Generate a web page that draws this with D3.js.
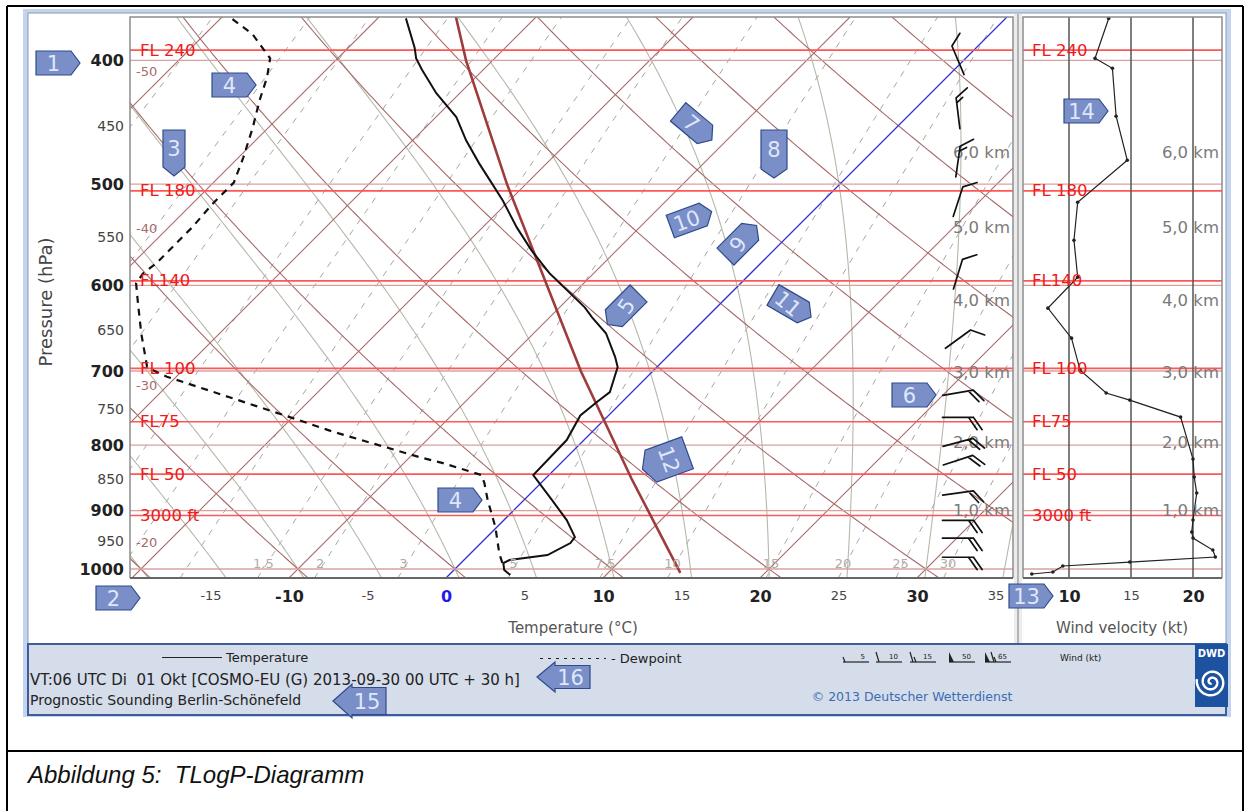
<!DOCTYPE html>
<html>
<head>
<meta charset="utf-8">
<script src="https://cdn.jsdelivr.net/npm/d3@7"></script>
<style>
  body { margin: 0; background: #fff; }
  svg { display: block; }
</style>
</head>
<body>
<svg id="chart" width="1244" height="811"></svg>
<script>
// ---------- sounding data ----------
const pressureTicks = [400, 450, 500, 550, 600, 650, 700, 750, 800, 850, 900, 950, 1000];
const majorPressure = [400, 500, 600, 700, 800, 900, 1000];
const tempTicks = [-15, -10, -5, 0, 5, 10, 15, 20, 25, 30, 35];
const majorTemp = [-10, 0, 10, 20, 30];
const windTicks = [10, 15, 20];

// flight levels (hPa, ICAO standard atmosphere)
const flLabels = ["FL 240", "FL 180", "FL140", "FL 100", "FL75", "FL 50", "3000 ft"];
const flPressure = [392.7, 506.0, 595.2, 696.8, 767.0, 843.0, 908.1];

// height marks of the standard atmosphere
const heightLabels = ["6,0 km", "5,0 km", "4,0 km", "3,0 km", "2,0 km", "1,0 km"];
const heightPressure = [472, 540, 616, 701, 795, 899];

// temperature profile (hPa, °C)
const tempP = [370.9, 390.8, 398.6, 406.9, 424.4, 443.1, 462.0, 481.6, 496.8, 515.2, 540.7, 563.5, 587.2, 605.4, 624.2, 635.5, 654.0, 682.6, 695.1, 727.2, 740.6, 758.3, 792.7, 844.3, 883.4, 915.6, 944.0, 954.3, 975.1, 983.9, 989.3, 1001.8, 1010.9];
const tempT = [-38.2, -35.8, -35.0, -33.9, -31.5, -28.7, -26.6, -24.3, -22.5, -20.4, -17.8, -15.4, -12.8, -10.6, -8.4, -7.3, -5.4, -3.3, -2.5, -1.4, -1.6, -1.8, -1.1, -1.0, 1.8, 4.0, 5.6, 5.7, 5.0, 2.9, 2.7, 3.2, 3.9];

// dewpoint profile (hPa, °C)
const dewP = [371.4, 381.4, 398.6, 412.3, 429.9, 451.5, 476.4, 498.6, 503.1, 517.9, 540.7, 560.4, 576.8, 587.2, 597.9, 619.9, 654.0, 694.6, 698.4, 707.2, 760.6, 781.0, 817.4, 826.4, 844.3, 856.6, 883.4, 927.2, 971.6, 992.8];
const dewT = [-49.2, -47.0, -44.3, -43.3, -42.3, -41.0, -39.7, -38.7, -38.7, -38.7, -38.5, -38.5, -38.5, -38.7, -38.5, -37.1, -35.0, -32.5, -32.0, -30.6, -20.2, -16.5, -9.4, -7.5, -4.3, -3.6, -2.3, -0.1, 1.8, 2.8];

// ICAO standard atmosphere
const isaP = [1007, 850, 700, 500, 400, 370];
const isaT = [14.6, 5.5, -4.6, -21.2, -31.7, -35.1];

// wind speed profile (hPa, kt)
const windP = [371, 398.6, 405.8, 442.4, 478.9, 516.5, 553.1, 591.2, 625.1, 659.8, 698.9, 728.4, 737.7, 760.6, 820.4, 847.4, 872.1, 915.6, 935.6, 945.7, 966.4, 978.6, 987.5, 994.6, 1005.4, 1009];
const windKt = [13.2, 12.1, 13.5, 13.8, 14.7, 10.7, 10.4, 10.7, 8.3, 10.2, 10.9, 13.0, 14.9, 19.0, 20.0, 20.1, 20.3, 20.0, 19.9, 20.0, 21.6, 21.8, 14.9, 9.5, 8.7, 7.0];

// wind barbs (hPa, direction °, speed kt)
const barbP = [400, 440, 480, 516, 588, 661, 728, 761, 796, 822, 872, 916, 946, 979];
const barbDir = [337, 353, 8, 18, 17, 54, 80, 90, 75, 72, 82, 90, 90, 90];
const barbKt = [10, 15, 15, 10, 10, 10, 20, 20, 20, 20, 20, 20, 20, 20];

// thermodynamic grid
const isotherms = [-60, -50, -40, -30, -20, -10, 0, 10, 20, 30];
const isothermLabels = [-50, -40, -30, -20];
const dryAdiabats = [-20, -10, 0, 10, 20, 30, 40, 50, 60, 70, 80];
const moistAdiabats = [-20, -15, -10, -5, 0, 5, 10, 15, 20, 25, 30, 35];
const mixingRatios = [0.1, 0.2, 0.3, 0.5, 0.7, 1, 1.5, 2, 3, 5, 7.5, 10, 15, 20, 25, 30, 40];
const mixingLabels = [1.5, 2, 3, 5, 7.5, 10, 15, 20, 25, 30];

// numbered annotation markers
const markers = [
  {n: "1", x: 58, y: 63, a: 0, ta: 0},
  {n: "2", x: 118, y: 598, a: 0, ta: 0},
  {n: "3", x: 174, y: 153, a: 90, ta: 0, len: 46, h: 22},
  {n: "4", x: 234, y: 85, a: 0, ta: 0},
  {n: "4", x: 460, y: 500, a: 0, ta: 0},
  {n: "5", x: 623, y: 309, a: 135, ta: -55},
  {n: "6", x: 914, y: 395, a: 0, ta: 0},
  {n: "7", x: 695, y: 126, a: 40, ta: 40},
  {n: "8", x: 774, y: 154, a: 90, ta: 0, len: 48, h: 26},
  {n: "9", x: 741, y: 241, a: -45, ta: -55},
  {n: "10", x: 691, y: 219, a: -20, ta: -20},
  {n: "11", x: 792, y: 306, a: 30, ta: 40},
  {n: "12", x: 665, y: 461, a: 160, ta: 70, len: 48, h: 34},
  {n: "13", x: 1031, y: 596, a: 0, ta: 0},
  {n: "14", x: 1086, y: 111, a: 0, ta: 0}
];

// ---------- layout ----------
const plot = {left: 130, right: 1013, top: 17, bottom: 578};
const wind = {left: 1023, right: 1222};
const pTop = 370, pBottom = 1016.3;
const barbColumnX = 958;

const svg = d3.select("#chart");
const FONT = "DejaVu Sans, Verdana, sans-serif";

// scales
const yP = d3.scaleLog().domain([pBottom, pTop]).range([plot.bottom, plot.top]);
const xT = d3.scaleLinear().domain([0, 35]).range([446, 446 + 35 * 15.7]);
const skewX = (T, p) => xT(T) + (plot.bottom - yP(p));
const xW = d3.scaleLinear().domain([10, 20]).range([1069, 1193]);

// ---------- frames ----------
svg.append("rect").attr("width", 1244).attr("height", 811).attr("fill", "#fff");
// document table borders
svg.append("path").attr("d", "M7,6H1243M7,751H1243M7,6V811M1243,6V811")
  .attr("stroke", "#000").attr("stroke-width", 2).attr("fill", "none");

// screenshot panel
svg.append("rect").attr("x", 23).attr("y", 9).attr("width", 1208).attr("height", 708).attr("fill", "#c4d4ec");
svg.append("rect").attr("x", 28).attr("y", 13).attr("width", 1198).attr("height", 631).attr("fill", "#fff")
  .attr("stroke", "#8a9ab8").attr("stroke-width", 1);
svg.append("rect").attr("x", 28).attr("y", 644).attr("width", 1198).attr("height", 71).attr("fill", "#d5dcea")
  .attr("stroke", "#3d5c9c").attr("stroke-width", 2);

// separator between diagram and wind panel
svg.append("rect").attr("x", 1014).attr("y", 14).attr("width", 8).attr("height", 629).attr("fill", "#ececec");
svg.append("line").attr("x1", 1018).attr("x2", 1018).attr("y1", 14).attr("y2", 643).attr("stroke", "#b4b4b4").attr("stroke-width", 2);

const defs = svg.append("defs");
defs.append("clipPath").attr("id", "clipMain").append("rect")
  .attr("x", plot.left).attr("y", plot.top).attr("width", plot.right - plot.left).attr("height", plot.bottom - plot.top);
defs.append("clipPath").attr("id", "clipWind").append("rect")
  .attr("x", wind.left).attr("y", plot.top).attr("width", wind.right - wind.left).attr("height", plot.bottom - plot.top);

const gMain = svg.append("g").attr("clip-path", "url(#clipMain)");
const gWind = svg.append("g").attr("clip-path", "url(#clipWind)");

// ---------- thermodynamic helpers ----------
const pSteps = d3.range(pBottom, pTop - 0.01, -4).concat([pTop]);
function satVap(Tc) { return 6.112 * Math.exp(17.67 * Tc / (Tc + 243.5)); }
function moistLapse(Tk, p) {
  const Rd = 287.04, Cp = 1005.7, L = 2.501e6, eps = 0.622;
  const es = satVap(Tk - 273.15), rs = eps * es / (p - es);
  return (Rd * Tk + L * rs) / (p * (Cp + L * L * rs * eps / (Rd * Tk * Tk)));
}
function moistCurve(T0) {
  const down = [];
  let T = T0 + 273.15, p = 1000;
  while (p < pBottom) { const dp = Math.min(2, pBottom - p); T += moistLapse(T, p) * dp; p += dp; down.push({p, T: T - 273.15}); }
  const pts = down.reverse();
  pts.push({p: 1000, T: T0});
  T = T0 + 273.15; p = 1000;
  while (p > pTop) {
    const dp = -Math.min(4, p - pTop);
    const k1 = moistLapse(T, p);
    const k2 = moistLapse(T + k1 * dp / 2, p + dp / 2);
    T += k2 * dp; p += dp;
    pts.push({p, T: T - 273.15});
  }
  return pts;
}
function mixDew(w, p) {
  const e = w * p / (622 + w), g = Math.log(e / 6.112);
  return 243.5 * g / (17.67 - g);
}

const skewLine = d3.line().x(d => skewX(d.T, d.p)).y(d => yP(d.p));

// mixing ratio lines (dashed)
gMain.selectAll(".mix").data(mixingRatios).join("path")
  .attr("d", w => skewLine(pSteps.map(p => ({p, T: mixDew(w, p)}))))
  .attr("fill", "none").attr("stroke", "#a3a3a3").attr("stroke-width", 1).attr("stroke-dasharray", "6,7");

// saturated adiabats
gMain.selectAll(".moist").data(moistAdiabats).join("path")
  .attr("d", T0 => skewLine(moistCurve(T0)))
  .attr("fill", "none").attr("stroke", "#b3baa9").attr("stroke-width", 1.1);

// dry adiabats
gMain.selectAll(".dry").data(dryAdiabats).join("path")
  .attr("d", th => skewLine(pSteps.map(p => ({p, T: (th + 273.15) * Math.pow(p / 1000, 0.2857) - 273.15}))))
  .attr("fill", "none").attr("stroke", "#a86a6a").attr("stroke-width", 1.1);

// isotherms
gMain.selectAll(".iso").data(isotherms.filter(t => t !== 0)).join("line")
  .attr("x1", t => skewX(t, pBottom)).attr("y1", yP(pBottom))
  .attr("x2", t => skewX(t, pTop)).attr("y2", yP(pTop))
  .attr("stroke", "#a86a6a").attr("stroke-width", 1.1);
gMain.append("line")
  .attr("x1", skewX(0, pBottom)).attr("y1", yP(pBottom))
  .attr("x2", skewX(0, pTop)).attr("y2", yP(pTop))
  .attr("stroke", "#3434c8").attr("stroke-width", 1.3);

// isobars and flight levels in both panels
[[gMain, plot.left, plot.right], [gWind, wind.left, wind.right]].forEach(([g, x0, x1]) => {
  g.selectAll(".isobar").data(majorPressure).join("line")
    .attr("x1", x0).attr("x2", x1).attr("y1", p => yP(p)).attr("y2", p => yP(p))
    .attr("stroke", "#d9a0a0").attr("stroke-width", 1.3);
  g.selectAll(".fl").data(flPressure).join("line")
    .attr("x1", x0).attr("x2", x1).attr("y1", p => yP(p)).attr("y2", p => yP(p))
    .attr("stroke", "#ff5656").attr("stroke-width", 1.7);
});

// standard atmosphere
gMain.append("path").datum(isaP.map((p, i) => ({p, T: isaT[i]})))
  .attr("d", skewLine).attr("fill", "none").attr("stroke", "#9e3c3c").attr("stroke-width", 2.6);

// dewpoint and temperature
gMain.append("path").datum(dewP.map((p, i) => ({p, T: dewT[i]})))
  .attr("d", skewLine).attr("fill", "none").attr("stroke", "#111").attr("stroke-width", 2.2)
  .attr("stroke-dasharray", "7,6");
gMain.append("path").datum(tempP.map((p, i) => ({p, T: tempT[i]})))
  .attr("d", skewLine).attr("fill", "none").attr("stroke", "#111").attr("stroke-width", 2);

// ---------- labels inside diagram ----------
// isotherm labels on left edge
svg.selectAll(".isoLab").data(isothermLabels).join("text")
  .attr("x", plot.left + 6)
  .attr("y", t => plot.bottom - (plot.left - xT(t)) - 33)
  .attr("font-family", FONT).attr("font-size", 13).attr("fill", "#a46c6c")
  .text(t => t);

// mixing ratio labels at 1000 hPa
svg.selectAll(".mixLab").data(mixingLabels).join("text")
  .attr("x", w => skewX(mixDew(w, 1000), 1000)).attr("y", yP(1000) - 1)
  .attr("text-anchor", "middle").attr("font-family", FONT).attr("font-size", 13).attr("fill", "#b3aca4")
  .text(w => w);

// flight level labels
[plot.left + 10, wind.left + 9].forEach(x0 => {
  svg.selectAll(null).data(flLabels).join("text")
    .attr("x", x0).attr("y", (d, i) => yP(flPressure[i]) + 5.5)
    .attr("font-family", FONT).attr("font-size", 16.5).attr("fill", "#ec1c1c")
    .text(d => d);
});

// height labels
[plot.right - 3, wind.right - 3].forEach(x0 => {
  svg.selectAll(null).data(heightLabels).join("text")
    .attr("x", x0).attr("y", (d, i) => yP(heightPressure[i]) + 6)
    .attr("text-anchor", "end").attr("font-family", FONT).attr("font-size", 16.5).attr("fill", "#7a7a7a")
    .text(d => d);
});

// wind barbs
const gBarb = svg.append("g").attr("stroke", "#111").attr("stroke-width", 1.7).attr("fill", "none")
  .attr("stroke-linecap", "round");
barbP.forEach((p, i) => {
  const a = barbDir[i] * Math.PI / 180;
  const ux = Math.sin(a), uy = -Math.cos(a);
  const vx = -uy, vy = ux;
  const cx = barbColumnX, cy = yP(p), half = 15.5;
  const bx = cx - ux * half, by = cy - uy * half, tx = cx + ux * half, ty = cy + uy * half;
  let d = `M${bx},${by}L${tx},${ty}`;
  let spd = barbKt[i], k = 0;
  const ang = 35 * Math.PI / 180, ca = Math.cos(ang), sa = Math.sin(ang);
  while (spd >= 10) {
    const sx = tx - ux * 5 * k, sy = ty - uy * 5 * k, L = 15;
    d += `M${sx},${sy}l${(vx * ca + ux * sa) * L},${(vy * ca + uy * sa) * L}`;
    spd -= 10; k++;
  }
  if (spd >= 5) {
    const sx = tx - ux * 5 * (k === 0 ? 1 : k), sy = ty - uy * 5 * (k === 0 ? 1 : k), L = 8;
    d += `M${sx},${sy}l${(vx * ca + ux * sa) * L},${(vy * ca + uy * sa) * L}`;
  }
  gBarb.append("path").attr("d", d);
});

// ---------- wind panel ----------
gWind.selectAll(".wgrid").data(windTicks).join("line")
  .attr("x1", d => xW(d)).attr("x2", d => xW(d)).attr("y1", plot.top).attr("y2", plot.bottom)
  .attr("stroke", "#555").attr("stroke-width", 1.5);
const windData = windP.map((p, i) => ({p, v: windKt[i]}));
gWind.append("path").datum(windData)
  .attr("d", d3.line().x(d => xW(d.v)).y(d => yP(d.p)))
  .attr("fill", "none").attr("stroke", "#222").attr("stroke-width", 1.2);
gWind.selectAll(".wdot").data(windData).join("circle")
  .attr("cx", d => xW(d.v)).attr("cy", d => yP(d.p)).attr("r", 1.8).attr("fill", "#222");

// plot frames
svg.append("path")
  .attr("d", `M${plot.left},${plot.bottom}V${plot.top}H${plot.right}V${plot.bottom}`)
  .attr("fill", "none").attr("stroke", "#8c8c8c").attr("stroke-width", 1.5);
svg.append("path")
  .attr("d", `M${wind.left},${plot.bottom}V${plot.top}H${wind.right}V${plot.bottom}`)
  .attr("fill", "none").attr("stroke", "#8c8c8c").attr("stroke-width", 1.5);
svg.append("line").attr("x1", plot.left).attr("x2", plot.right).attr("y1", plot.bottom).attr("y2", plot.bottom)
  .attr("stroke", "#666").attr("stroke-width", 2.2);
svg.append("line").attr("x1", wind.left).attr("x2", wind.right).attr("y1", plot.bottom).attr("y2", plot.bottom)
  .attr("stroke", "#666").attr("stroke-width", 2.2);

// ---------- axes ----------
const yAxis = d3.axisLeft(yP).tickValues(pressureTicks).tickFormat(d => String(d)).tickSize(0).tickPadding(6);
const gy = svg.append("g").attr("transform", `translate(${plot.left},0)`).call(yAxis);
gy.select(".domain").remove();
gy.selectAll("text")
  .attr("font-family", FONT)
  .attr("font-size", d => majorPressure.includes(d) ? 16 : 14)
  .attr("font-weight", d => majorPressure.includes(d) ? "bold" : "normal")
  .attr("fill", d => majorPressure.includes(d) ? "#222" : "#444");

const xAxis = d3.axisBottom(xT).tickValues(tempTicks).tickFormat(d => String(d)).tickSize(0).tickPadding(13);
const gx = svg.append("g").attr("transform", `translate(0,${plot.bottom})`).call(xAxis);
gx.select(".domain").remove();
gx.selectAll("text")
  .attr("font-family", FONT)
  .attr("font-size", d => majorTemp.includes(d) ? 16 : 13)
  .attr("font-weight", d => majorTemp.includes(d) ? "bold" : "normal")
  .attr("fill", d => d === 0 ? "#1c1cf0" : (majorTemp.includes(d) ? "#222" : "#444"));

const wAxis = d3.axisBottom(xW).tickValues(windTicks).tickFormat(d => String(d)).tickSize(0).tickPadding(13);
const gw = svg.append("g").attr("transform", `translate(0,${plot.bottom})`).call(wAxis);
gw.select(".domain").remove();
gw.selectAll("text")
  .attr("font-family", FONT)
  .attr("font-size", d => d === 15 ? 13 : 16)
  .attr("font-weight", d => d === 15 ? "normal" : "bold")
  .attr("fill", d => d === 15 ? "#444" : "#222");

// axis titles
svg.append("text").attr("x", 573).attr("y", 633).attr("text-anchor", "middle")
  .attr("font-family", FONT).attr("font-size", 15).attr("fill", "#555").text("Temperature (°C)");
svg.append("text").attr("x", 1122).attr("y", 633).attr("text-anchor", "middle")
  .attr("font-family", FONT).attr("font-size", 15).attr("fill", "#555").text("Wind velocity (kt)");
svg.append("text").attr("transform", "translate(52,302) rotate(-90)").attr("text-anchor", "middle")
  .attr("font-family", FONT).attr("font-size", 18).attr("fill", "#444").text("Pressure (hPa)");

// ---------- footer ----------
const foot = svg.append("g").attr("font-family", FONT);
foot.append("line").attr("x1", 162).attr("x2", 222).attr("y1", 657.5).attr("y2", 657.5).attr("stroke", "#222").attr("stroke-width", 1.2);
foot.append("text").attr("x", 226).attr("y", 662).attr("font-size", 13).attr("fill", "#222").text("Temperature");
foot.append("line").attr("x1", 540).attr("x2", 606).attr("y1", 658.5).attr("y2", 658.5).attr("stroke", "#222")
  .attr("stroke-width", 1.2).attr("stroke-dasharray", "3,5");
foot.append("text").attr("x", 611).attr("y", 663).attr("font-size", 13).attr("fill", "#222").text("- Dewpoint");
foot.append("text").attr("x", 30).attr("y", 685).attr("font-size", 15).attr("fill", "#222")
  .style("white-space", "pre").text("VT:06 UTC Di  01 Okt [COSMO-EU (G) 2013-09-30 00 UTC + 30 h]");
foot.append("text").attr("x", 30).attr("y", 705).attr("font-size", 14).attr("fill", "#222")
  .text("Prognostic Sounding Berlin-Schönefeld");
foot.append("text").attr("x", 912).attr("y", 701).attr("text-anchor", "middle").attr("font-size", 12.5)
  .attr("fill", "#3b6db4").text("© 2013 Deutscher Wetterdienst");
foot.append("text").attr("x", 1060).attr("y", 661).attr("font-size", 9).attr("fill", "#222").text("Wind (kt)");

// wind legend glyphs
const legendKt = [5, 10, 15, 50, 65];
const legendX = [843, 876, 910, 949, 985];
const gl = foot.append("g").attr("stroke", "#222").attr("stroke-width", 1.2).attr("fill", "none");
legendKt.forEach((kt, i) => {
  const x0 = legendX[i], y0 = 662, w = 26;
  gl.append("line").attr("x1", x0).attr("x2", x0 + w).attr("y1", y0).attr("y2", y0);
  let d = "";
  if (kt >= 50) {
    foot.append("path").attr("d", `M${x0},${y0}l0,-10l5,10Z`).attr("fill", "#222");
    const rest = kt - 50;
    for (let k = 0; k < Math.floor(rest / 10); k++) d += `M${x0 + 6 + 3 * k},${y0 - 10}l3,10`;
    if (rest % 10 >= 5) d += `M${x0 + 6 + 3 * Math.floor(rest / 10)},${y0 - 5}l2,5`;
  } else {
    for (let k = 0; k < Math.floor(kt / 10); k++) d += `M${x0 + 3 * k},${y0 - 10}l3,10`;
    if (kt % 10 >= 5) d += `M${x0 + 3 * Math.floor(kt / 10) + (kt < 10 ? 0 : 1)},${y0 - 5}l2,5`;
  }
  gl.append("path").attr("d", d);
  foot.append("text").attr("x", x0 + w - 4).attr("y", y0 - 3).attr("text-anchor", "end")
    .attr("font-size", 7).attr("fill", "#222").text(kt);
});

// DWD logo
const logo = svg.append("g");
logo.append("rect").attr("x", 1195).attr("y", 644).attr("width", 33).attr("height", 63).attr("fill", "#1d52a0");
logo.append("text").attr("x", 1211.5).attr("y", 657).attr("text-anchor", "middle").attr("font-family", FONT)
  .attr("font-weight", "bold").attr("font-size", 10).attr("fill", "#fff").text("DWD");
const spiral = d3.range(0, 4.6 * Math.PI, 0.1).map(t => {
  const r = 1.2 + t * 0.95;
  return [1211.5 + r * Math.cos(t + 1.5), 682 + r * Math.sin(t + 1.5)];
});
logo.append("path").attr("d", d3.line()(spiral)).attr("fill", "none").attr("stroke", "#fff").attr("stroke-width", 2.4);

// ---------- numbered markers ----------
const gm = svg.append("g");
markers.forEach(m => {
  const L = m.len || 44, H = m.h || 24, tip = 9;
  const pts = [[-L / 2, -H / 2], [L / 2 - tip, -H / 2], [L / 2, 0], [L / 2 - tip, H / 2], [-L / 2, H / 2]];
  const g = gm.append("g").attr("transform", `translate(${m.x},${m.y}) rotate(${m.a})`);
  g.append("path").attr("d", "M" + pts.join("L") + "Z")
    .attr("fill", "#7a8ec7").attr("stroke", "#2f4b8c").attr("stroke-width", 1.2);
  g.append("text").attr("transform", `translate(${-tip / 2},0) rotate(${m.ta - m.a})`)
    .attr("text-anchor", "middle").attr("dy", "0.36em")
    .attr("font-family", FONT).attr("font-size", 21).attr("fill", "#dfe7fa").text(m.n);
});

// block arrows in footer
const arrows = [
  {n: "15", tipX: 333, y: 701, head: 19, shaft: 34, hh: 34, sh: 27},
  {n: "16", tipX: 537, y: 677, head: 18, shaft: 35, hh: 30, sh: 23}
];
arrows.forEach(a => {
  const x0 = a.tipX, hx = x0 + a.head, ex = hx + a.shaft;
  const d = `M${x0},${a.y}L${hx},${a.y - a.hh / 2}L${hx},${a.y - a.sh / 2}L${ex},${a.y - a.sh / 2}L${ex},${a.y + a.sh / 2}L${hx},${a.y + a.sh / 2}L${hx},${a.y + a.hh / 2}Z`;
  gm.append("path").attr("d", d).attr("fill", "#7a8ec7").attr("stroke", "#2f4b8c").attr("stroke-width", 1.2);
  gm.append("text").attr("x", hx + a.shaft / 2 - 2).attr("y", a.y).attr("dy", "0.36em").attr("text-anchor", "middle")
    .attr("font-family", FONT).attr("font-size", 21).attr("fill", "#dfe7fa").text(a.n);
});

// ---------- caption ----------
svg.append("text").attr("x", 28).attr("y", 783)
  .attr("font-family", "Liberation Sans, Arial, sans-serif").attr("font-style", "italic").attr("font-size", 24)
  .attr("fill", "#111").style("white-space", "pre").text("Abbildung 5:  TLogP-Diagramm");
</script>
</body>
</html>
